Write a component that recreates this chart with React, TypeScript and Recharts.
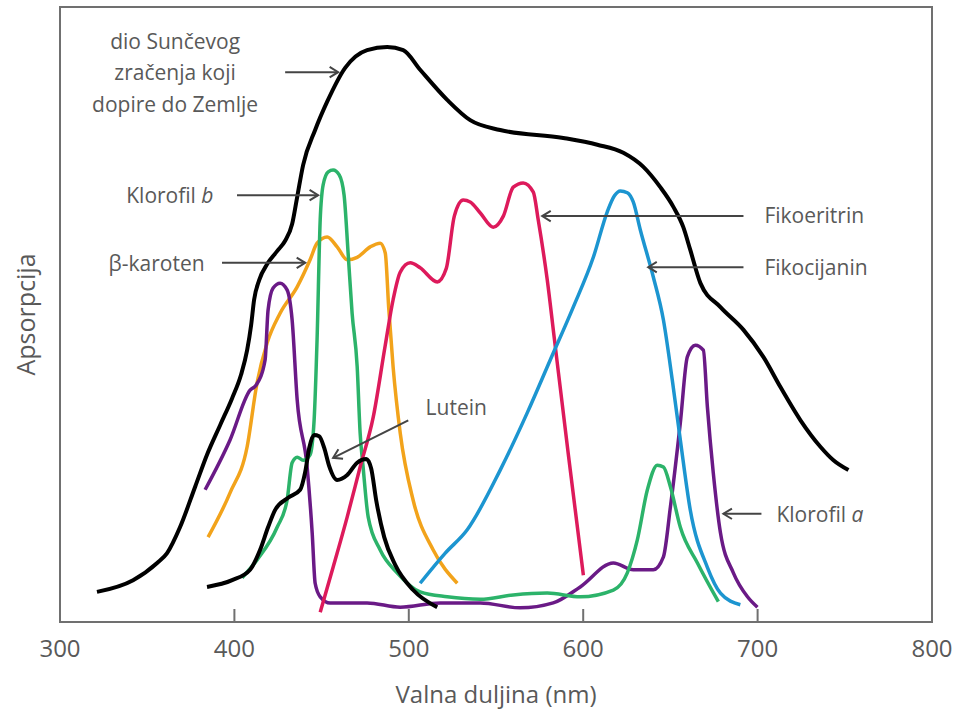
import { LineChart, Line, XAxis, YAxis, ReferenceArea, ReferenceLine, ReferenceDot } from 'recharts';

// valna duljina (nm), apsorpcija (relativno, 0-100)
const xTicks = [300, 400, 500, 600, 700, 800];

const suncevo: [number, number][] = [
  [321.2, 4.9], [341.9, 6.8], [355.7, 9.6], [361.4, 11.2], [368.8, 15.4], [377.5, 22.0],
  [384.3, 27.2], [391.8, 32.0], [398.7, 36.4], [403.8, 40.2], [407.3, 44.2], [409.6, 48.3],
  [411.3, 52.4], [414.2, 55.6], [418.8, 58.2], [424.5, 60.3], [429.1, 62.0], [433.1, 64.7],
  [436.0, 69.1], [439.4, 74.3], [446.3, 80.0], [453.2, 84.6], [463.5, 90.1],
  [476.1, 93.0], [487.6, 93.5], [496.8, 93.0], [506.5, 89.8], [522.0, 84.9], [535.2, 81.6],
  [552.4, 80.0], [588.6, 78.7], [608.1, 77.6], [623.0, 76.3], [634.5, 74.0], [644.2, 70.7],
  [651.7, 67.5], [657.4, 64.2], [661.4, 60.5], [667.2, 55.1], [678.7, 51.2], [691.9, 47.5],
  [703.3, 43.1], [713.1, 38.2], [724.6, 32.8], [736.0, 28.5], [743.5, 26.3], [752.1, 24.7],
];

const klorofilA: [number, number][] = [
  [383.2, 21.5], [397.5, 29.6], [409.0, 37.7], [412.4, 38.5], [417.6, 42.6], [419.3, 50.7],
  [422.2, 54.3], [426.2, 55.1], [430.2, 54.0], [433.1, 49.1], [436.0, 36.1], [441.7, 25.2],
  [444.6, 14.5], [446.3, 6.3], [449.2, 4.1], [454.9, 3.1], [476.1, 3.1], [495.1, 2.4],
  [518.0, 3.1], [541.0, 3.1], [563.9, 2.3], [582.8, 3.1], [598.3, 5.7], [617.3, 9.6],
  [628.7, 8.5], [640.2, 8.5], [646.0, 10.6], [650.0, 18.7], [655.7, 32.4], [659.7, 43.1],
  [664.3, 45.0], [668.9, 44.2], [671.2, 35.0], [674.6, 24.2], [678.7, 14.5], [686.1, 8.0],
  [694.2, 4.1], [699.9, 2.4],
];

const betaKaroten: [number, number][] = [
  [384.9, 13.8], [397.5, 21.0], [407.3, 28.5], [413.0, 38.9], [418.8, 45.4], [426.2, 50.2],
  [436.0, 54.5], [443.4, 58.9], [447.4, 61.6], [453.2, 62.6], [458.9, 61.0], [464.7, 58.9],
  [470.4, 59.3], [477.9, 61.0], [483.6, 61.6], [486.5, 60.0], [488.5, 51.0], [491.0, 41.5],
  [495.1, 30.7], [502.5, 19.8], [514.0, 11.7], [527.8, 6.3],
];

const klorofilB: [number, number][] = [
  [404.4, 7.2], [413.0, 10.1], [424.5, 15.4], [430.2, 19.8], [433.1, 25.9], [436.0, 26.8],
  [439.4, 26.3], [443.4, 27.2], [445.7, 32.8], [447.4, 45.9], [449.2, 65.4], [450.9, 71.1],
  [453.8, 73.2], [456.6, 73.5], [460.1, 72.7], [462.9, 69.4], [465.2, 60.0], [467.5, 50.2],
  [470.4, 41.5], [472.1, 30.7], [473.8, 25.2], [476.7, 17.1], [483.6, 11.7], [493.3, 8.0],
  [506.5, 4.9], [522.0, 4.1], [541.0, 3.7], [559.9, 4.4], [579.4, 4.7], [598.3, 4.1],
  [617.3, 5.2], [625.3, 8.0], [631.0, 13.3], [636.8, 21.5], [642.5, 25.5], [646.0, 25.2],
  [650.0, 22.0], [655.7, 15.4], [665.5, 9.6], [677.5, 3.3],
];

const fikoeritrin: [number, number][] = [
  [449.2, 1.6], [456.6, 8.9], [464.7, 17.1], [472.1, 25.2], [479.6, 33.3], [486.5, 45.0],
  [491.0, 52.4], [495.1, 56.9], [500.8, 58.4], [506.5, 57.6], [516.3, 55.3], [521.5, 57.5],
  [526.1, 66.0], [531.2, 68.6], [535.2, 68.3], [541.0, 66.5], [548.4, 64.2], [554.2, 66.0],
  [559.9, 70.7], [565.6, 71.4], [571.4, 69.9], [574.2, 65.4], [579.4, 55.6], [583.4, 46.2],
  [591.5, 27.2], [600.1, 7.6],
];

const fikocijanin: [number, number][] = [
  [506.5, 6.3], [520.9, 11.2], [533.5, 15.0], [552.4, 24.7], [567.9, 34.0], [581.1, 42.6],
  [594.3, 51.2], [605.8, 59.3], [613.8, 66.7], [617.9, 69.3], [621.3, 70.1], [625.3, 69.8],
  [628.7, 68.3], [632.8, 63.7], [640.2, 56.1], [646.0, 49.1], [651.1, 39.3], [655.7, 29.6],
  [661.4, 18.2], [671.2, 8.9], [678.7, 4.7], [690.1, 2.8],
];

const lutein: [number, number][] = [
  [384.3, 5.7], [398.7, 6.8], [409.0, 8.5], [414.7, 11.7], [419.3, 15.4], [423.3, 18.2],
  [430.8, 20.2], [437.7, 21.5], [440.6, 24.4], [442.9, 28.3], [445.7, 30.4], [448.6, 30.2],
  [451.5, 28.3], [454.3, 25.4], [458.9, 23.1], [464.7, 23.9], [470.4, 25.9], [475.6, 26.5],
  [478.4, 25.0], [481.3, 19.8], [485.9, 13.8], [492.2, 9.3], [502.5, 5.2], [516.3, 2.4],
];

const series = [
  { name: 'β-karoten', pts: betaKaroten, color: '#f2a31b', width: 3.5 },
  { name: 'Klorofil a', pts: klorofilA, color: '#6a1a86', width: 3.5 },
  { name: 'Klorofil b', pts: klorofilB, color: '#2cb36a', width: 3.5 },
  { name: 'Fikoeritrin', pts: fikoeritrin, color: '#dd1a5b', width: 3.5 },
  { name: 'Fikocijanin', pts: fikocijanin, color: '#1c95d0', width: 3.5 },
  { name: 'Sunčevo zračenje', pts: suncevo, color: '#000000', width: 4 },
  { name: 'Lutein', pts: lutein, color: '#000000', width: 4 },
];

// natpisi: tekst, kurzivni dodatak, položaj (nm, apsorpcija), poravnanje
const labels = [
  { lines: ['dio Sunčevog', 'zračenja koji', 'dopire do Zemlje'], italic: '', x: 366, y: 89.4, anchor: 'middle' },
  { lines: ['Klorofil '], italic: 'b', x: 363, y: 69.4, anchor: 'middle' },
  { lines: ['β-karoten'], italic: '', x: 355.4, y: 58.4, anchor: 'middle' },
  { lines: ['Lutein'], italic: '', x: 527.2, y: 35.0, anchor: 'middle' },
  { lines: ['Fikoeritrin'], italic: '', x: 703.9, y: 66.2, anchor: 'start' },
  { lines: ['Fikocijanin'], italic: '', x: 703.9, y: 57.7, anchor: 'start' },
  { lines: ['Klorofil '], italic: 'a', x: 710.8, y: 17.6, anchor: 'start' },
];

// strelice: od (nm, aps.) do (nm, aps.)
const arrows = [
  { from: [429.1, 89.4], to: [459.5, 89.4] },
  { from: [401.5, 69.4], to: [448.0, 69.4] },
  { from: [392.9, 58.4], to: [440.6, 58.4] },
  { from: [499.7, 32.8], to: [456.6, 26.7] },
  { from: [691.9, 66.0], to: [576.5, 66.0] },
  { from: [691.9, 57.7], to: [637.3, 57.7] },
  { from: [702.2, 17.6], to: [680.4, 17.6] },
];

const textColor = '#595959';
const axisColor = '#707070';
const font = '"Open Sans", sans-serif';

const toPoints = (arr: [number, number][]) => arr.map(([nm, a]) => ({ nm, a }));

function ArrowShape(props: any) {
  const { x1, y1, x2, y2 } = props;
  const ang = Math.atan2(y2 - y1, x2 - x1);
  const len = 10;
  const spread = 0.55;
  const ax = x2 - len * Math.cos(ang - spread);
  const ay = y2 - len * Math.sin(ang - spread);
  const bx = x2 - len * Math.cos(ang + spread);
  const by = y2 - len * Math.sin(ang + spread);
  return (
    <g>
      <line x1={x1} y1={y1} x2={x2} y2={y2} stroke="#444" strokeWidth={2} />
      <polyline points={`${ax},${ay} ${x2},${y2} ${bx},${by}`} fill="none" stroke="#444" strokeWidth={2} />
    </g>
  );
}

function AxisTick(props: any) {
  const { x, y, payload } = props;
  const inner = payload.value > 300 && payload.value < 800;
  return (
    <g>
      {inner && <line x1={x} y1={y} x2={x} y2={y - 13} stroke={axisColor} strokeWidth={2} />}
      <text x={x} y={y + 25} textAnchor="middle" dominantBaseline="central" fill={textColor} fontSize={24} fontFamily={font}>
        {payload.value}
      </text>
    </g>
  );
}

export default function App() {
  return (
    <div style={{ position: 'absolute', left: 0, top: 0, background: '#fff' }}>
      <LineChart width={956} height={713} margin={{ top: 7, right: 24, bottom: 0, left: 0 }}>
        <ReferenceArea x1={300} x2={800} y1={0} y2={100} fill="none" stroke={axisColor} strokeWidth={2} />
        <XAxis
          dataKey="nm"
          type="number"
          domain={[300, 800]}
          ticks={xTicks}
          height={91}
          axisLine={false}
          tickLine={false}
          tickSize={0}
          tickMargin={0}
          tick={<AxisTick />}
          allowDuplicatedCategory={false}
          label={{ value: 'Valna duljina (nm)', position: 'insideBottom', offset: 10, fill: textColor, fontSize: 24, fontFamily: font }}
        />
        <YAxis
          type="number"
          domain={[0, 100]}
          width={60}
          axisLine={false}
          tickLine={false}
          tick={false}
          label={{ value: 'Apsorpcija', angle: -90, position: 'center', dx: -4, fill: textColor, fontSize: 25, fontFamily: font }}
        />
        {series.map((s) => (
          <Line
            key={s.name}
            data={toPoints(s.pts)}
            dataKey="a"
            name={s.name}
            type="monotone"
            stroke={s.color}
            strokeWidth={s.width}
            dot={false}
            activeDot={false}
            isAnimationActive={false}
          />
        ))}
        {arrows.map((ar, i) => (
          <ReferenceLine
            key={'ar' + i}
            segment={[{ x: ar.from[0], y: ar.from[1] }, { x: ar.to[0], y: ar.to[1] }]}
            shape={(p: any) => <ArrowShape {...p} />}
          />
        ))}
        {labels.map((lb, i) => (
          <ReferenceDot
            key={'lb' + i}
            x={lb.x}
            y={lb.y}
            r={0}
            shape={(p: any) => (
              <text
                x={p.cx}
                y={p.cy - ((lb.lines.length - 1) * 31.5) / 2}
                textAnchor={lb.anchor as any}
                dominantBaseline="central"
                fill={textColor}
                fontSize={21}
                fontFamily={font}
              >
                {lb.lines.map((t, j) => (
                  <tspan key={j} x={p.cx} dy={j === 0 ? 0 : 31.5}>
                    {t}
                    {lb.italic && j === lb.lines.length - 1 ? <tspan fontStyle="italic">{lb.italic}</tspan> : null}
                  </tspan>
                ))}
              </text>
            )}
          />
        ))}
      </LineChart>
    </div>
  );
}
